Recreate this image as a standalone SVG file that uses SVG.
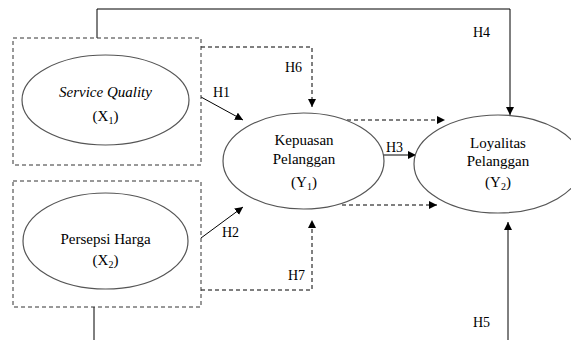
<svg xmlns="http://www.w3.org/2000/svg" width="571" height="340" viewBox="0 0 571 340">
<style>
text{font-family:"Liberation Serif","DejaVu Serif","Times New Roman",serif;fill:#000}
.n{font-size:15px;text-anchor:middle}
.h{font-size:14px}
.sub{font-size:10px}
.ell{fill:#fff;stroke:#555;stroke-width:1.2}
.box{fill:none;stroke:#333;stroke-width:1;stroke-dasharray:4 3}
.s{fill:none;stroke:#000;stroke-width:1}
.d{fill:none;stroke:#000;stroke-width:1;stroke-dasharray:4 3}
.a{marker-end:url(#ah)}
</style>
<defs>
<marker id="ah" markerUnits="userSpaceOnUse" markerWidth="9" markerHeight="8" refX="8" refY="4" orient="auto">
<path d="M0,0 L8,4 L0,8 z" fill="#000"/>
</marker>
</defs>
<rect width="571" height="340" fill="#fff"/>
<g id="connectors">
<polyline class="s a" points="97,38 97,9 510,9 510,115"/>
<line class="s" x1="94" y1="307" x2="94" y2="340"/>
<line class="s a" x1="508" y1="340" x2="508" y2="222"/>
<line class="s a" x1="201" y1="97" x2="243" y2="120"/>
<line class="s a" x1="201" y1="238" x2="243" y2="207"/>
<line class="s a" x1="383" y1="155" x2="416" y2="155"/>
<polyline class="d a" points="201,47 312,47 312,107"/>
<polyline class="d a" points="201,290 312,290 312,220"/>
<line class="d a" x1="347" y1="120" x2="445" y2="120"/>
<line class="d a" x1="342" y1="205" x2="437" y2="205"/>
<text class="h" x="213" y="97" font-family="Liberation Serif, serif">H1</text>
<text class="h" x="222" y="237" font-family="Liberation Serif, serif">H2</text>
<text class="h" x="386" y="152" font-family="Liberation Serif, serif">H3</text>
<text class="h" x="473" y="37" font-family="Liberation Serif, serif">H4</text>
<text class="h" x="473" y="327" font-family="Liberation Serif, serif">H5</text>
<text class="h" x="285" y="72" font-family="Liberation Serif, serif">H6</text>
<text class="h" x="288" y="280" font-family="Liberation Serif, serif">H7</text>
</g>
<g id="x1">
<rect class="box" x="13" y="38" width="188" height="127"/>
<ellipse class="ell" cx="105.5" cy="100" rx="83.5" ry="45"/>
<text class="n" x="105.5" y="97" font-style="italic">Service Quality</text>
<text class="n" x="105.5" y="121">(X<tspan class="sub" dy="3">1</tspan><tspan dy="-3">)</tspan></text>
</g>
<g id="x2">
<rect class="box" x="13" y="181" width="188" height="126"/>
<ellipse class="ell" cx="105.5" cy="241" rx="82.5" ry="48"/>
<text class="n" x="105.5" y="244">Persepsi Harga</text>
<text class="n" x="105.5" y="265">(X<tspan class="sub" dy="3">2</tspan><tspan dy="-3">)</tspan></text>
</g>
<g id="y1">
<ellipse class="ell" cx="303.5" cy="161" rx="80.5" ry="48"/>
<text class="n" x="304" y="145">Kepuasan</text>
<text class="n" x="304" y="164">Pelanggan</text>
<text class="n" x="304" y="187">(Y<tspan class="sub" dy="3">1</tspan><tspan dy="-3">)</tspan></text>
</g>
<g id="y2">
<ellipse class="ell" cx="498" cy="164" rx="84" ry="49"/>
<text class="n" x="498" y="148">Loyalitas</text>
<text class="n" x="498" y="166">Pelanggan</text>
<text class="n" x="498" y="187">(Y<tspan class="sub" dy="3">2</tspan><tspan dy="-3">)</tspan></text>
</g>
</svg>
